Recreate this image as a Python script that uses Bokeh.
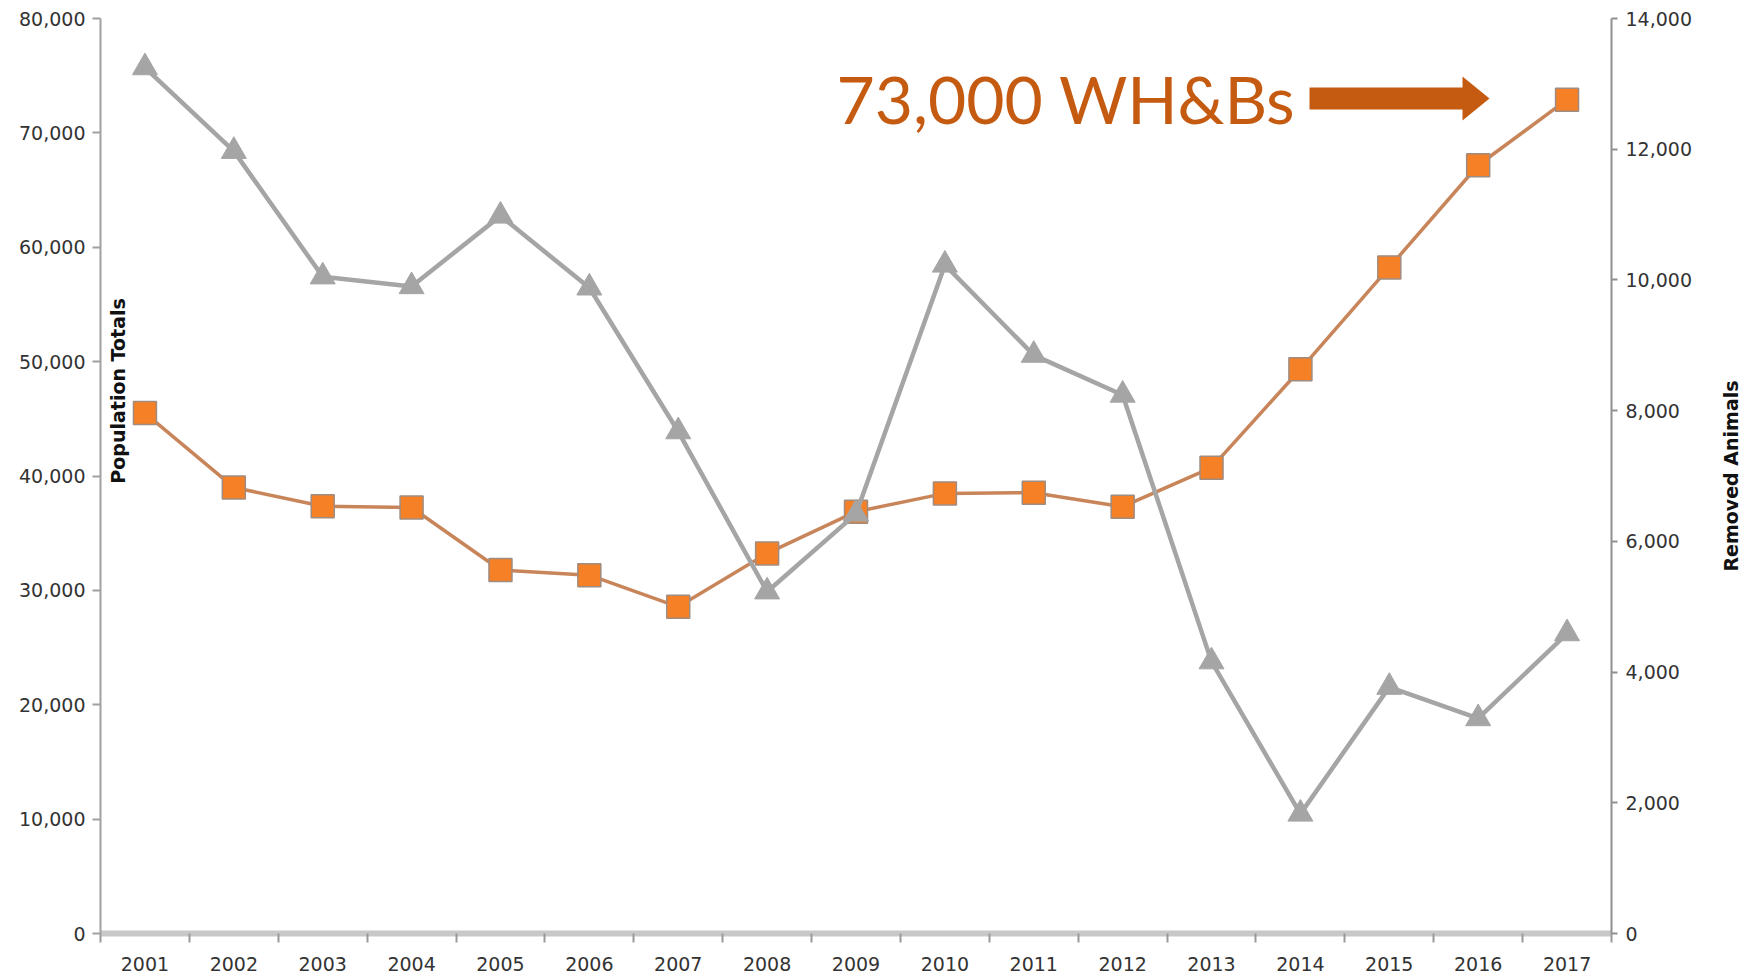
import numpy as np
from bokeh.plotting import figure
from bokeh.layouts import row
from bokeh.models import Range1d, LinearAxis, FixedTicker, NumeralTickFormatter, Label, PolyAnnotation
from bokeh.embed import file_html
from bokeh.resources import INLINE

# ---------------- data ----------------
years = list(range(2001, 2018))
population_totals = [45500, 39000, 37350, 37250, 31780, 31330, 28560, 33230, 36880,
                     38480, 38540, 37320, 40730, 49330, 58240, 67170, 72900]
removed_animals = [13250, 11970, 10050, 9900, 10980, 9880, 7680, 5230, 6420,
                   10230, 8850, 8240, 4160, 1830, 3770, 3290, 4590]
left_ticks = [0, 10000, 20000, 30000, 40000, 50000, 60000, 70000, 80000]
right_ticks = [0, 2000, 4000, 6000, 8000, 10000, 12000, 14000]
left_label = "Population Totals"
right_label = "Removed Animals"
callout_text = "73,000 WH&Bs"
callout_value = 73000

ORANGE_TXT = "#C55A11"
TICK_FONT = "DejaVu Sans"
TICK_SIZE = "19px"

H = 973
TOP, BOTTOM = 18, 40
p = figure(width=1716, height=H,
           x_range=Range1d(years[0] - 0.5, years[-1] + 0.5),
           y_range=Range1d(0, 80000),
           output_backend="svg", toolbar_location=None,
           min_border_left=100, min_border_right=105,
           min_border_top=TOP, min_border_bottom=BOTTOM)
p.extra_y_ranges = {"removed": Range1d(0, 14000)}
p.xgrid.visible = False
p.ygrid.visible = False
p.outline_line_color = None
p.background_fill_color = "white"

# bottom axis
xa = p.xaxis[0]
xa.ticker = FixedTicker(ticks=years, minor_ticks=[y - 0.5 for y in years] + [years[-1] + 0.5])
xa.formatter = NumeralTickFormatter(format="0")
xa.axis_line_color = "#C8C8C8"
xa.axis_line_width = 6
xa.major_tick_line_color = None
xa.major_tick_out = 0
xa.major_tick_in = 0
xa.minor_tick_line_color = "#9A9A9A"
xa.minor_tick_line_width = 2
xa.minor_tick_out = 9
xa.minor_tick_in = 0
xa.major_label_standoff = 14
xa.major_label_text_font = TICK_FONT
xa.major_label_text_font_size = TICK_SIZE
xa.major_label_text_color = "#333333"

# left axis
ya = p.yaxis[0]
ya.ticker = FixedTicker(ticks=left_ticks, minor_ticks=[])
ya.formatter = NumeralTickFormatter(format="0,0")
ya.axis_line_color = "#A0A0A0"
ya.axis_line_width = 2
ya.major_tick_line_color = "#A0A0A0"
ya.major_tick_line_width = 2
ya.major_tick_out = 8
ya.major_tick_in = 0
ya.minor_tick_line_color = None
ya.major_label_standoff = 7
ya.major_label_text_font = TICK_FONT
ya.major_label_text_font_size = TICK_SIZE
ya.major_label_text_color = "#333333"

# right axis
ra = LinearAxis(y_range_name="removed",
                ticker=FixedTicker(ticks=right_ticks, minor_ticks=[]),
                formatter=NumeralTickFormatter(format="0,0"))
ra.axis_line_color = "#909090"
ra.axis_line_width = 2
ra.major_tick_line_color = "#909090"
ra.major_tick_line_width = 2
ra.major_tick_out = 6
ra.major_tick_in = 0
ra.minor_tick_line_color = None
ra.major_label_standoff = 8
ra.major_label_text_font = TICK_FONT
ra.major_label_text_font_size = TICK_SIZE
ra.major_label_text_color = "#333333"
p.add_layout(ra, "right")

# series
p.line(years, population_totals, line_color="#C9855A", line_width=3.5)
p.scatter(years, population_totals, marker="square", size=23,
          fill_color="#F58025", line_color="#A08C80", line_width=1.5)
p.line(years, removed_animals, y_range_name="removed", line_color="#A5A5A5", line_width=4.5)
p.scatter(years, removed_animals, y_range_name="removed", marker="triangle", size=25,
          fill_color="#A5A5A5", line_color="#A5A5A5", line_width=1)

# left axis title (placed inside the frame like the reference)
px_per_year = 1511 / 17.0
px_per_val = 914 / 80000.0
x0 = years[0] - 0.5
p.add_layout(Label(x=x0 + 17 / px_per_year, y=47440, text=left_label, angle=np.pi / 2,
                   text_align="center", text_baseline="middle",
                   text_font="DejaVu Sans", text_font_style="bold",
                   text_font_size="19px", text_color="#111111"))

# callout text and arrow
p.add_layout(Label(x=x0 + 736 / px_per_year, y=callout_value,
                   text=callout_text, text_align="left", text_baseline="middle",
                   text_font="Lato", text_font_size="66px", text_color=ORANGE_TXT))
xs0 = x0 + 1209 / px_per_year
xb = x0 + 1362 / px_per_year
xt = x0 + 1389 / px_per_year
sh = 11 / px_per_val
hh = 22 / px_per_val
cy = callout_value
p.add_layout(PolyAnnotation(xs=[xs0, xb, xb, xt, xb, xb, xs0],
                            ys=[cy + sh, cy + sh, cy + hh, cy, cy - hh, cy - sh, cy - sh],
                            fill_color=ORANGE_TXT, fill_alpha=1.0, line_color=None))

# right-side title strip (reads bottom-to-top, centred on the plot frame)
p2 = figure(width=28, height=H, x_range=Range1d(0, 1), y_range=Range1d(0, 1),
            output_backend="svg", toolbar_location=None,
            min_border_left=0, min_border_right=0,
            min_border_top=TOP, min_border_bottom=BOTTOM)
p2.axis.visible = False
p2.grid.visible = False
p2.outline_line_color = None
p2.add_layout(Label(x=0.5, y=0.5, text=right_label, angle=np.pi / 2,
                    text_align="center", text_baseline="middle",
                    text_font="DejaVu Sans", text_font_style="bold",
                    text_font_size="19px", text_color="#111111"))

layout = row(p, p2, spacing=0)
open("out.html", "w").write(file_html(layout, INLINE))
